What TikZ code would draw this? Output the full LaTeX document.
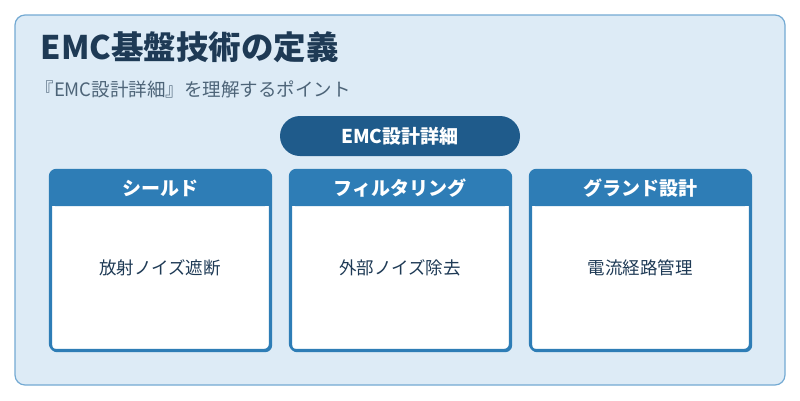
\documentclass[tikz,border=0pt]{standalone}
\usepackage{fontspec}
\setmainfont{Noto Sans CJK JP}
\usetikzlibrary{positioning}
\definecolor{bgblue}{HTML}{DDEBF6}
\definecolor{rimblue}{HTML}{74AAD3}
\definecolor{titleink}{HTML}{1E3A55}
\definecolor{subink}{HTML}{4D6478}
\definecolor{pillblue}{HTML}{1F5B8B}
\definecolor{cardblue}{HTML}{2E7DB6}
\tikzset{
    card/.style={draw=cardblue, line width=2.2pt, fill=white, rounded corners=6pt,
        minimum width=220pt, minimum height=180pt, anchor=north west},
    cardhead/.style={fill=cardblue, rounded corners=6pt, minimum width=220pt,
        minimum height=36pt, anchor=north west},
    headtext/.style={text=white, font=\bfseries\fontsize{19}{21}\selectfont},
    cardtext/.style={text=titleink, font=\fontsize{17.5}{19}\selectfont}
}
\begin{document}
\begin{tikzpicture}[x=1pt,y=-1pt]
\useasboundingbox (0,0) rectangle (800,400);
\fill[white] (0,0) rectangle (800,400);
\draw[rimblue, fill=bgblue, line width=1.2pt, rounded corners=10pt] (15,15) rectangle (785,385);
\node[anchor=west, text=titleink, font=\bfseries\fontsize{32.5}{35}\selectfont] (title) at (37,47) {EMC基盤技術の定義};
\node[anchor=west, text=subink, font=\fontsize{18.5}{20}\selectfont] (subtitle) at (32,89) {『EMC設計詳細』を理解するポイント};
\node[fill=pillblue, rounded corners=20pt, minimum width=240pt, minimum height=40pt,
    headtext] (pill) at (400,136) {EMC設計詳細};
\foreach \x/\head/\body/\name in {50/シールド/放射ノイズ遮断/shield,
    290/フィルタリング/外部ノイズ除去/filter, 530/グランド設計/電流経路管理/ground}{
    \node[card] (\name) at (\x,170) {};
    \node[cardhead] (\name head) at (\x,170) {};
    \fill[cardblue] (\x,194) rectangle (\x+220,206);
    \node[headtext] at (\x+110,188) {\head};
    \node[cardtext] (\name text) at (\x+110,268) {\body};
    \draw[cardblue, line width=2.2pt, rounded corners=6pt] (\x,170) rectangle (\x+220,350);
}
\end{tikzpicture}
\end{document}
